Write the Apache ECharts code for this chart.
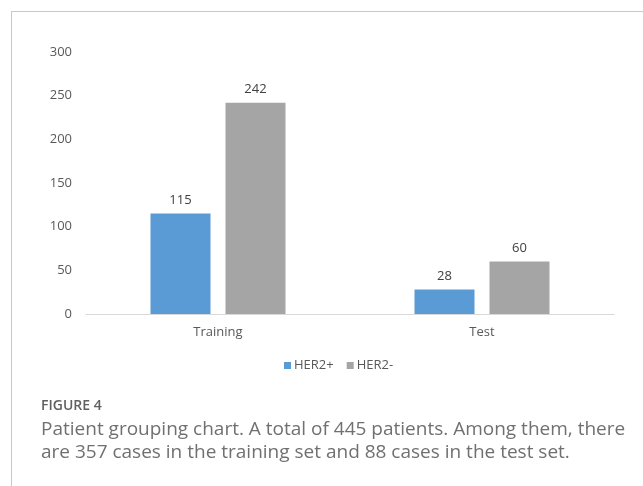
<!DOCTYPE html>
<html>
<head>
<meta charset="utf-8">
<script src="https://cdn.jsdelivr.net/npm/echarts@6/dist/echarts.min.js"></script>
<style>
  html, body { margin: 0; padding: 0; background: #fff; }
  #chart { width: 643px; height: 486px; }
</style>
</head>
<body>
<div id="chart"></div>
<script>
// Patient counts per data split and HER2 status
const categories = ['Training', 'Test'];
const her2Pos = [115, 28];
const her2Neg = [242, 60];
const seriesNames = ['HER2+', 'HER2-'];
const yTicks = [0, 50, 100, 150, 200, 250, 300];

const captionTitle = 'FIGURE 4';
const captionLines = [
  'Patient grouping chart. A total of 445 patients. Among them, there',
  'are 357 cases in the training set and 88 cases in the test set.'
];

const chart = echarts.init(document.getElementById('chart'), null, { renderer: 'canvas' });

const labelStyle = {
  show: true,
  position: 'top',
  distance: 7,
  color: '#404040',
  fontSize: 13,
  fontFamily: 'Open Sans'
};

chart.setOption({
  animation: false,
  backgroundColor: '#fff',
  textStyle: { fontFamily: 'Open Sans' },
  grid: { left: 86, right: 29, top: 52, bottom: 172, containLabel: false },
  legend: {
    data: seriesNames,
    top: 359,
    left: 282,
    padding: [0, 2],
    icon: 'rect',
    itemWidth: 7,
    itemHeight: 7,
    itemGap: 13,
    textStyle: { color: '#595959', fontSize: 13, fontFamily: 'Open Sans', padding: [0, 0, 0, -2] }
  },
  xAxis: {
    type: 'category',
    data: categories,
    axisLine: { lineStyle: { color: '#d9d9d9', width: 1 } },
    axisTick: { show: false },
    axisLabel: { color: '#595959', fontSize: 13, margin: 12 }
  },
  yAxis: {
    type: 'value',
    min: yTicks[0],
    max: yTicks[yTicks.length - 1],
    interval: yTicks[1] - yTicks[0],
    axisLine: { show: false },
    axisTick: { show: false },
    splitLine: { show: false },
    axisLabel: { color: '#595959', fontSize: 13, margin: 14 }
  },
  series: [
    {
      name: seriesNames[0],
      type: 'bar',
      data: her2Pos,
      barWidth: 60,
      barGap: '25%',
      itemStyle: { color: '#5b9bd5' },
      label: labelStyle
    },
    {
      name: seriesNames[1],
      type: 'bar',
      data: her2Neg,
      barWidth: 60,
      barGap: '25%',
      itemStyle: { color: '#a5a5a5' },
      label: labelStyle
    }
  ],
  graphic: [
    // panel frame (top and left edges)
    { type: 'line', shape: { x1: 11, y1: 11.5, x2: 643, y2: 11.5 }, style: { stroke: '#c8c8c8', lineWidth: 1 } },
    { type: 'line', shape: { x1: 11.5, y1: 11, x2: 11.5, y2: 486 }, style: { stroke: '#c8c8c8', lineWidth: 1 } },
    {
      type: 'text', left: 41, top: 399,
      style: { text: captionTitle, fill: '#606060', font: '600 14px "Open Sans", sans-serif' }
    },
    {
      type: 'text', left: 41, top: 420,
      style: { text: captionLines[0], fill: '#707070', font: '19px "Open Sans", sans-serif' }
    },
    {
      type: 'text', left: 41, top: 443,
      style: { text: captionLines[1], fill: '#707070', font: '19px "Open Sans", sans-serif' }
    }
  ]
});
</script>
</body>
</html>
